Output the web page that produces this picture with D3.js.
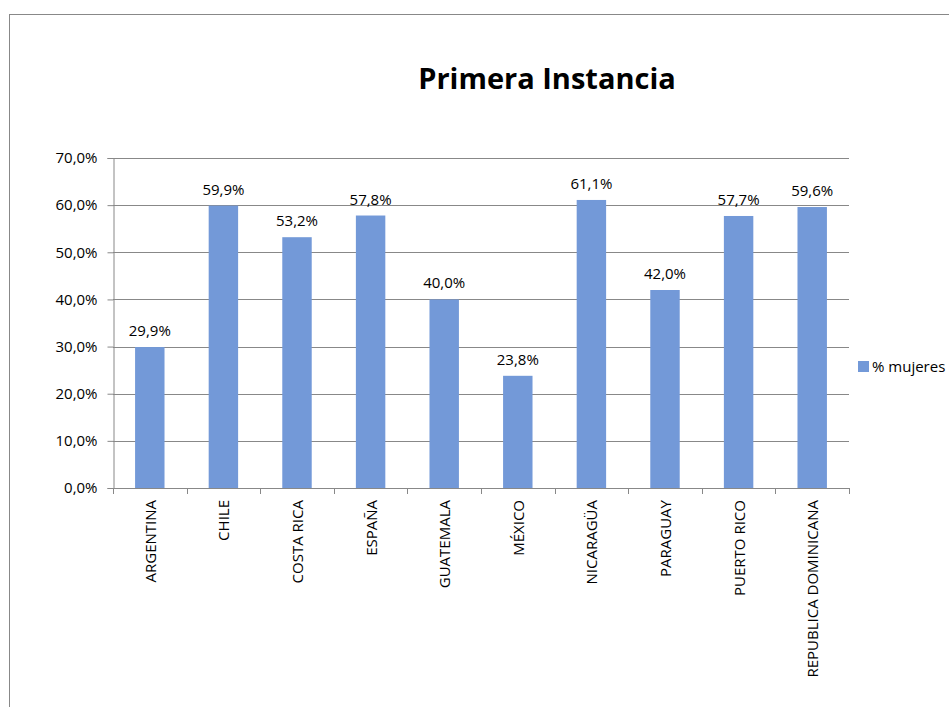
<!DOCTYPE html>
<html>
<head>
<meta charset="utf-8">
<script src="https://cdn.jsdelivr.net/npm/d3@7"></script>
<style>
body { margin: 0; background: #fff; }
text { font-family: "Open Sans", "Noto Sans", sans-serif; fill: #000; }
</style>
</head>
<body>
<script>
var countries = ['ARGENTINA', 'CHILE', 'COSTA RICA', 'ESPAÑA', 'GUATEMALA', 'MÉXICO', 'NICARAGÜA', 'PARAGUAY', 'PUERTO RICO', 'REPUBLICA DOMINICANA']
var pct_mujeres = [29.9, 59.9, 53.2, 57.8, 40.0, 23.8, 61.1, 42.0, 57.7, 59.6]
var y_ticks = [0, 10, 20, 30, 40, 50, 60, 70]
var series_name = '% mujeres'
var chart_title = 'Primera Instancia'

var width = 949, height = 707
var left = 113, right = 849, top_y = 158, bottom = 488
var bar_color = '#7399d8', grid_color = '#888888'

var fmt = v => v.toFixed(1).replace('.', ',') + '%'

var svg = d3.select('body').append('svg').attr('width', width).attr('height', height)

// outer border of the chart area
svg.append('rect').attr('x', 9.5).attr('y', 14.5).attr('width', 960).attr('height', 720)
	.attr('fill', 'none').attr('stroke', '#888').attr('stroke-width', 1)

svg.append('text').attr('x', 547).attr('y', 89).attr('text-anchor', 'middle')
	.style('font-size', '29px').style('font-weight', 'bold').text(chart_title)

var x = d3.scaleBand().domain(countries).range([left, right]).paddingInner(0.6).paddingOuter(0.3)
var xb = d3.scaleBand().domain(countries).range([left, right])
var y = d3.scaleLinear().domain([0, 70]).range([bottom, top_y])

// gridlines
svg.append('g').selectAll('line').data(y_ticks).enter().append('line')
	.attr('x1', left).attr('x2', right)
	.attr('y1', d => Math.round(y(d)) + 0.5).attr('y2', d => Math.round(y(d)) + 0.5)
	.attr('stroke', grid_color)

// y axis
var yaxis = svg.append('g').attr('transform', 'translate(' + (left + 0.5) + ',0)')
	.call(d3.axisLeft(y).tickValues(y_ticks).tickFormat(d => fmt(d)).tickSize(6).tickPadding(10))
yaxis.select('.domain').attr('stroke', grid_color)
yaxis.selectAll('.tick line').attr('stroke', grid_color)
yaxis.selectAll('text').style('font-size', '15px').attr('fill', '#000')

// bars
svg.append('g').selectAll('rect').data(countries).enter().append('rect')
	.attr('x', d => x(d)).attr('width', x.bandwidth())
	.attr('y', (d, i) => y(pct_mujeres[i])).attr('height', (d, i) => bottom - y(pct_mujeres[i]))
	.attr('fill', bar_color)

// value labels
svg.append('g').selectAll('text').data(countries).enter().append('text')
	.attr('x', d => x(d) + x.bandwidth() / 2)
	.attr('y', (d, i) => y(pct_mujeres[i]) - 11)
	.attr('text-anchor', 'middle').style('font-size', '15px')
	.text((d, i) => fmt(pct_mujeres[i]))

// x axis line and ticks at category boundaries
var xg = svg.append('g')
xg.append('line').attr('x1', left).attr('x2', right).attr('y1', bottom + 0.5).attr('y2', bottom + 0.5).attr('stroke', grid_color)
xg.selectAll('.xt').data(countries.concat(['end'])).enter().append('line')
	.attr('class', 'xt')
	.attr('x1', (d, i) => Math.round(left + i * xb.bandwidth()) + 0.5)
	.attr('x2', (d, i) => Math.round(left + i * xb.bandwidth()) + 0.5)
	.attr('y1', bottom).attr('y2', bottom + 6).attr('stroke', grid_color)

xg.selectAll('.xl').data(countries).enter().append('text')
	.attr('class', 'xl')
	.attr('transform', d => 'translate(' + (x(d) + x.bandwidth() / 2 + 6) + ',' + (bottom + 12) + ') rotate(-90)')
	.attr('text-anchor', 'end').style('font-size', '15px')
	.text(d => d)

// legend
var lg = svg.append('g').attr('transform', 'translate(858,361)')
lg.append('rect').attr('width', 11).attr('height', 11).attr('fill', bar_color)
lg.append('text').attr('x', 14).attr('y', 11).style('font-size', '15px').text(series_name)
</script>
</body>
</html>
